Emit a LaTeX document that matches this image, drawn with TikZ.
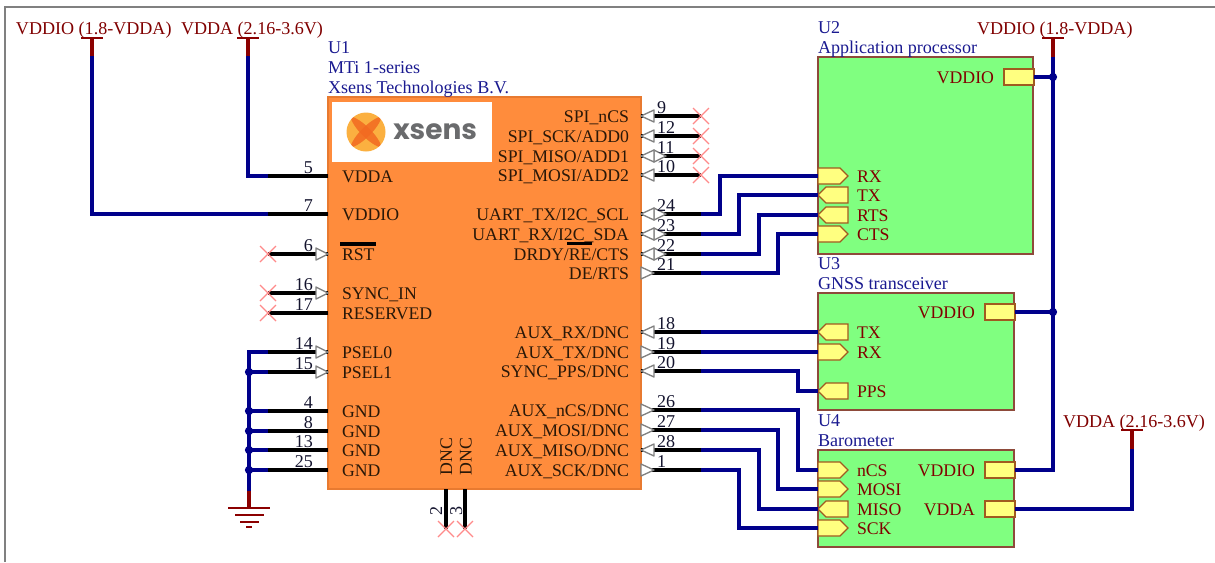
\documentclass[tikz,border=0pt]{standalone}
\usepackage{fontspec}
\setmainfont{Liberation Serif}
\newfontfamily\logofont{Poppins}
\usetikzlibrary{calc}
\definecolor{wireblue}{HTML}{00008B}
\definecolor{powred}{HTML}{8B0000}
\definecolor{titleblue}{HTML}{1A1A90}
\definecolor{portred}{HTML}{800000}
\definecolor{pintext}{HTML}{2A1808}
\definecolor{numtext}{HTML}{14142E}
\definecolor{uorange}{HTML}{FF8C3C}
\definecolor{uorangeb}{HTML}{E87A30}
\definecolor{ugreen}{HTML}{80FF80}
\definecolor{ugreenb}{HTML}{8E4A3A}
\definecolor{portfill}{HTML}{FFFF80}
\definecolor{portdraw}{HTML}{A05A20}
\definecolor{crossred}{HTML}{FF8A8A}
\definecolor{logoyellow}{HTML}{FBB040}
\definecolor{logoorange}{HTML}{F26A21}
\definecolor{logogrey}{HTML}{6A6B6D}
\tikzset{
  x=0.75pt,y=-0.75pt,
  txt/.style={inner sep=0pt,outer sep=0pt,font=\fontsize{13.55}{15}\selectfont},
  stxt/.style={inner sep=0pt,outer sep=0pt,font=\fontsize{13.3}{15}\selectfont},
  titlelab/.style={txt,text=titleblue,anchor=base west},
  pinlabL/.style={stxt,text=pintext,anchor=base west},
  pinlabR/.style={stxt,text=pintext,anchor=base east},
  numlab/.style={txt,text=numtext},
  portlab/.style={stxt,text=portred},
  powlab/.style={txt,text=portred,anchor=base west},
  pinline/.style={draw=black,line width=2.3pt},
  wire/.style={draw=wireblue,line width=2.3pt,line join=miter},
  pow/.style={draw=powred,line width=2.3pt},
  powbar/.style={draw=powred,line width=1.7pt},
  pinarrow/.style={draw=gray,fill=white,line width=1pt,line join=round},
  crossmark/.style={draw=crossred,line width=0.9pt},
  chip/.style={draw=uorangeb,fill=uorange,line width=0.8pt},
  greenbox/.style={draw=ugreenb,fill=ugreen,line width=0.9pt},
  portshape/.style={draw=portdraw,fill=portfill,line width=0.9pt},
  junction/.style={circle,fill=wireblue,inner sep=0pt,minimum size=6.2pt},
}
% pin arrowheads on the right side of U1 (argument: y)
\newcommand{\tL}[1]{\draw[pinarrow] (641,#1) -- (654,#1-6) -- (654,#1+6) -- cycle;}
\newcommand{\tR}[1]{\draw[pinarrow] (641,#1-6) -- (654,#1) -- (641,#1+6) -- cycle;}
\newcommand{\tB}[1]{\draw[pinarrow] (654,#1-6) -- (666,#1) -- (654,#1+6) -- cycle;\tL{#1}}
\newcommand{\tN}[1]{}
% right pin: y, number, label, arrow
\newcommand{\rpin}[4]{%
  \coordinate (p#2) at (701,#1);
  \coordinate (e#2) at (641,#1);
  \draw[pinline] (e#2) -- (p#2);
  #4{#1}
  \node[numlab,anchor=base west] (n#2) at (657,#1-3) {#2};
  \node[pinlabR] (l#2) at (629,#1+6) {#3};
}
% left pin: y, number, label, has-arrow macro
\newcommand{\lA}[1]{\draw[pinarrow] (316,#1-6) -- (328,#1) -- (316,#1+6) -- cycle;}
\newcommand{\lpin}[4]{%
  \coordinate (p#2) at (268,#1);
  \coordinate (e#2) at (328,#1);
  \draw[pinline] (e#2) -- (p#2);
  #4{#1}
  \node[numlab,anchor=base east] (n#2) at (313,#1-3) {#2};
  \node[pinlabL] (l#2) at (342,#1+6) {#3};
}
\newcommand{\xmark}[1]{%
  \draw[crossmark] ($(#1)+(-8,-8)$) -- ($(#1)+(8,8)$);
  \draw[crossmark] ($(#1)+(-8,8)$) -- ($(#1)+(8,-8)$);
}
% port on left edge of a box: name, y, label, direction
\newcommand{\portIn}[3]{%
  \coordinate (#1) at (818,#2);
  \draw[portshape] (818,#2-8) -- (840,#2-8) -- (848,#2) -- (840,#2+8) -- (818,#2+8) -- cycle;
  \node[portlab,anchor=base west] (#1l) at (857,#2+6) {#3};
}
\newcommand{\portOut}[3]{%
  \coordinate (#1) at (818,#2);
  \draw[portshape] (848,#2-8) -- (826,#2-8) -- (818,#2) -- (826,#2+8) -- (848,#2+8) -- cycle;
  \node[portlab,anchor=base west] (#1l) at (857,#2+6) {#3};
}
% port on right edge: name, y, left x, label
\newcommand{\portPow}[4]{%
  \coordinate (#1) at (#3+30,#2);
  \draw[portshape] (#3,#2-8) rectangle (#3+30,#2+8);
  \node[portlab,anchor=base east] (#1l) at (#3-10,#2+6) {#4};
}
% power symbol: name, x, bar y, red end y
\newcommand{\powsym}[4]{%
  \coordinate (#1) at (#2,#3);
  \coordinate (#1r) at (#2,#4);
  \draw[pow] (#1) -- (#1r);
  \draw[powbar] ($(#1)+(-11,0)$) -- ($(#1)+(11,0)$);
}
\begin{document}
\begin{tikzpicture}
\useasboundingbox (0,0) rectangle (1215,562);
% sheet frame
\draw[gray,line width=1.4pt] (5,562) -- (5,7) -- (1215,7);

% ---------- U1
\draw[chip] (328,97) rectangle (641,489);
\node[titlelab] (u1a) at (328,53) {U1};
\node[titlelab] (u1b) at (328,73) {MTi 1-series};
\node[titlelab] (u1c) at (328,93) {Xsens Technologies B.V.};
% logo
\fill[white] (332,102) rectangle (492,162);
\fill[logoyellow] (366,132) circle (19.5);
\begin{scope}
\clip (366,132) circle (19.5);
\fill[logoorange,opacity=.85] (350,116) .. controls (362,119) and (379,136) .. (382,148) .. controls (370,145) and (353,128) .. (350,116) -- cycle;
\fill[logoorange,opacity=.85] (382,116) .. controls (379,128) and (362,145) .. (350,148) .. controls (353,136) and (370,119) .. (382,116) -- cycle;
\end{scope}
\node[inner sep=0pt,text=logogrey,anchor=base west,font=\logofont\bfseries\fontsize{21}{22}\selectfont] (logotext) at (393,139) {xsens};

% left pins
\lpin{176}{5}{VDDA}{\tN}
\lpin{214}{7}{VDDIO}{\tN}
\lpin{254}{6}{RST}{\lA}
\lpin{293}{16}{SYNC\_IN}{\lA}
\lpin{313}{17}{RESERVED}{\tN}
\lpin{352}{14}{PSEL0}{\lA}
\lpin{372}{15}{PSEL1}{\lA}
\lpin{411}{4}{GND}{\tN}
\lpin{431}{8}{GND}{\tN}
\lpin{450}{13}{GND}{\tN}
\lpin{470}{25}{GND}{\tN}
\draw[black,line width=2.3pt] (340,244) -- (376,244);
\xmark{p6}\xmark{p16}\xmark{p17}

% right pins
\rpin{116}{9}{SPI\_nCS}{\tL}
\rpin{136}{12}{SPI\_SCK/ADD0}{\tL}
\rpin{156}{11}{SPI\_MISO/ADD1}{\tB}
\rpin{175}{10}{SPI\_MOSI/ADD2}{\tL}
\rpin{214}{24}{UART\_TX/I2C\_SCL}{\tB}
\rpin{234}{23}{UART\_RX/I2C\_SDA}{\tB}
\rpin{254}{22}{DRDY/RE/CTS}{\tB}
\rpin{273}{21}{DE/RTS}{\tR}
\rpin{332}{18}{AUX\_RX/DNC}{\tL}
\rpin{352}{19}{AUX\_TX/DNC}{\tR}
\rpin{371}{20}{SYNC\_PPS/DNC}{\tL}
\rpin{410}{26}{AUX\_nCS/DNC}{\tR}
\rpin{430}{27}{AUX\_MOSI/DNC}{\tR}
\rpin{450}{28}{AUX\_MISO/DNC}{\tL}
\rpin{470}{1}{AUX\_SCK/DNC}{\tR}
\draw[black,line width=2.3pt] (567,243.5) -- (592,243.5);
\xmark{p9}\xmark{p12}\xmark{p11}\xmark{p10}

% bottom pins
\coordinate (e2) at (446,489); \coordinate (p2) at (446,529);
\coordinate (e3) at (465,489); \coordinate (p3) at (465,529);
\draw[pinline] (e2) -- (p2);
\draw[pinline] (e3) -- (p3);
\xmark{p2}\xmark{p3}
\node[numlab,rotate=90,anchor=base west] (n2) at (442,515) {2};
\node[numlab,rotate=90,anchor=base west] (n3) at (462,515) {3};
\node[pinlabL,rotate=90] (l2) at (452,475) {DNC};
\node[pinlabL,rotate=90] (l3) at (471.5,475) {DNC};

% ---------- U2
\draw[greenbox] (818,57) rectangle (1033,254);
\node[titlelab] (u2a) at (818,33.5) {U2};
\node[titlelab] (u2b) at (818,53) {Application processor};
\portIn{u2rx}{176}{RX}
\portOut{u2tx}{195}{TX}
\portOut{u2rts}{215}{RTS}
\portIn{u2cts}{234}{CTS}
\portPow{u2v}{77}{1004}{VDDIO}

% ---------- U3
\draw[greenbox] (818,293) rectangle (1014,410);
\node[titlelab] (u3a) at (818,269) {U3};
\node[titlelab] (u3b) at (818,289) {GNSS transceiver};
\portOut{u3tx}{332}{TX}
\portIn{u3rx}{352}{RX}
\portOut{u3pps}{391}{PPS}
\portPow{u3v}{312}{985}{VDDIO}

% ---------- U4
\draw[greenbox] (818,450) rectangle (1014,547);
\node[titlelab] (u4a) at (818,426) {U4};
\node[titlelab] (u4b) at (818,446) {Barometer};
\portIn{u4cs}{470}{nCS}
\portIn{u4mosi}{489}{MOSI}
\portOut{u4miso}{509}{MISO}
\portIn{u4sck}{528}{SCK}
\portPow{u4v}{470}{985}{VDDIO}
\portPow{u4a}{509}{985}{VDDA}

% ---------- power symbols and labels
\powsym{pa}{92}{38}{56}
\powsym{pb}{248}{38}{56}
\powsym{pc}{1053}{38}{57}
\powsym{pd}{1132}{430}{449}
\node[powlab] (vla) at (16,34) {VDDIO (1.8-VDDA)};
\node[powlab] (vlb) at (181,34) {VDDA (2.16-3.6V)};
\node[powlab] (vlc) at (977,34) {VDDIO (1.8-VDDA)};
\node[powlab] (vld) at (1063,427) {VDDA (2.16-3.6V)};

% ---------- wires
\draw[wire] (par) |- (p7);
\draw[wire] (pbr) |- (p5);
\draw[wire] (p24) -- ++(19,0) |- (u2rx);
\draw[wire] (p23) -- ++(38,0) |- (u2tx);
\draw[wire] (p22) -- ++(58,0) |- (u2rts);
\draw[wire] (p21) -- ++(77,0) |- (u2cts);
\draw[wire] (p18) -- (u3tx);
\draw[wire] (p19) -- (u3rx);
\draw[wire] (p20) -- ++(97,0) |- (u3pps);
\draw[wire] (p26) -- ++(97,0) |- (u4cs);
\draw[wire] (p27) -- ++(77,0) |- (u4mosi);
\draw[wire] (p28) -- ++(58,0) |- (u4miso);
\draw[wire] (p1) -- ++(38,0) |- (u4sck);
\draw[wire] (pcr) |- (u4v);
\coordinate (jc) at (1053,77);
\coordinate (jd) at (1053,312);
\draw[wire] (u2v) -- (jc);
\draw[wire] (u3v) -- (jd);
\draw[wire] (pdr) |- (u4a);
\node[junction] (ja) at (jc) {};
\node[junction] (jb) at (jd) {};

% ---------- ground
\coordinate (g1) at (249,491);
\coordinate (g2) at (249,508);
\draw[wire] (p14) -| (g1);
\draw[wire] (p15) -- (249,372);
\draw[wire] (p4) -- (249,411);
\draw[wire] (p8) -- (249,431);
\draw[wire] (p13) -- (249,450);
\draw[wire] (p25) -- (249,470);
\node[junction] (k1) at (249,372) {};
\node[junction] (k2) at (249,411) {};
\node[junction] (k3) at (249,431) {};
\node[junction] (k4) at (249,450) {};
\node[junction] (k5) at (249,470) {};
\draw[pow] (g1) -- (g2);
\draw[powbar] (228,508) -- (270,508);
\draw[powbar] (235,515) -- (264,515);
\draw[powbar] (240,522) -- (259,522);
\draw[powbar] (246,527) -- (252,527);
\end{tikzpicture}
\end{document}
